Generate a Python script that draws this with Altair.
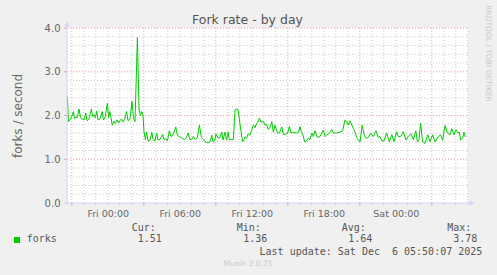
import altair as alt
import pandas as pd

# time offsets in minutes from Fri 00:00, and fork rate values (forks/second)
minutes = [-202, -197, -189, -182, -172, -166, -159, -152, -144, -136, -129, -119, -110, -104, -94,
           -82, -76, -69, -62, -55, -49, -39, -28, -22, -14, -2, 4, 10, 16, 22, 31, 38, 46, 54, 61,
           68, 76, 84, 94, 101, 111, 121, 128, 136, 148, 156, 164, 170, 176, 181, 188,
           194, 201, 211, 220, 226, 236, 244, 251, 261, 274, 281, 291, 298, 308, 316, 326, 340,
           346, 354, 364, 374, 384, 391, 402, 411, 420, 428, 438, 448, 458, 468, 478, 486, 494,
           504, 511, 520, 526, 534, 541, 551, 561, 570, 576, 586, 594, 602, 608, 618, 628, 636,
           646, 652, 661, 674, 681, 686, 694, 702, 711, 718, 728, 736, 744, 751, 758, 766, 778,
           786, 794, 802, 811, 820, 828, 836, 848, 858, 870, 878, 888, 898, 908, 916, 926, 936,
           944, 954, 961, 968, 976, 984, 994, 1004, 1011, 1020, 1028, 1036, 1048, 1061, 1078,
           1086, 1094, 1108, 1120, 1128, 1144, 1161, 1174, 1186, 1194, 1202, 1211, 1228, 1236,
           1244, 1252, 1261, 1272, 1284, 1296, 1302, 1314, 1328, 1341, 1352, 1361, 1370, 1381,
           1394, 1408, 1420, 1431, 1444, 1452, 1464, 1478, 1491, 1502, 1516, 1528, 1540, 1548,
           1556, 1564, 1574, 1586, 1600, 1611, 1624, 1636, 1652, 1664, 1674, 1686, 1698, 1711,
           1720, 1731, 1741, 1750, 1758, 1764, 1774, 1781, 1788]
forks = [2.43, 1.86, 1.90, 1.95, 2.09, 1.93, 1.97, 1.95, 2.15, 1.95, 1.92, 1.90, 2.06, 1.88, 1.92,
         2.15, 1.98, 2.02, 1.95, 2.10, 1.90, 1.92, 2.09, 1.90, 1.95, 2.28, 1.95, 2.09, 1.95, 1.78,
         1.87, 1.82, 1.90, 1.83, 1.88, 1.92, 1.85, 1.90, 2.09, 1.88, 1.92, 2.32, 1.95, 1.86, 3.78,
         2.13, 2.00, 2.09, 2.00, 1.63, 1.45,
         1.62, 1.42, 1.43, 1.62, 1.45, 1.42, 1.60, 1.44, 1.45, 1.57, 1.45, 1.47, 1.42, 1.65, 1.52,
         1.55, 1.74, 1.58, 1.52, 1.50, 1.47, 1.45, 1.48, 1.60, 1.45, 1.46, 1.52, 1.45, 1.50, 1.78,
         1.50, 1.45, 1.40, 1.38, 1.38, 1.40, 1.55, 1.40, 1.42, 1.58, 1.48, 1.50, 1.62, 1.44, 1.62,
         1.44, 1.62, 1.45, 1.45, 1.45, 2.13, 2.15, 2.13, 1.80, 1.40, 1.45, 1.51, 1.48, 1.58, 1.55,
         1.65, 1.78, 1.72, 1.82, 1.85, 1.94, 1.85, 1.86, 1.78, 1.80, 1.68, 1.72, 1.86, 1.62, 1.78,
         1.60, 1.60, 1.74, 1.56, 1.58, 1.58, 1.75, 1.60, 1.62, 1.60, 1.60, 1.62, 1.75, 1.62, 1.55,
         1.40, 1.42, 1.48, 1.45, 1.60, 1.52, 1.65, 1.50, 1.52, 1.67, 1.52, 1.55, 1.60, 1.68, 1.60,
         1.60, 1.62, 1.65, 1.90, 1.86, 1.78, 1.88, 1.70, 1.62, 1.50, 1.45, 1.40, 1.78, 1.52, 1.48,
         1.50, 1.60, 1.52, 1.65, 1.50, 1.52, 1.42, 1.42, 1.60, 1.40, 1.56, 1.40, 1.63, 1.52, 1.52,
         1.63, 1.44, 1.52, 1.58, 1.44, 1.65, 1.40, 1.45, 1.82, 1.40, 1.36, 1.56, 1.40, 1.56, 1.40,
         1.51, 1.56, 1.44, 1.77, 1.60, 1.56, 1.70, 1.56, 1.68, 1.60, 1.62, 1.44, 1.48, 1.62, 1.51]

x_tick_values = [0, 360, 720, 1080, 1440]
x_tick_labels = ["Fri 00:00", "Fri 06:00", "Fri 12:00", "Fri 18:00", "Sat 00:00"]
y_tick_values = [0, 1, 2, 3, 4]

title_text = "Fork rate - by day"
y_title = "forks / second"
series_name = "forks"
stat_labels = ["Cur:", "Min:", "Avg:", "Max:"]
stat_values = ["1.51", "1.36", "1.64", "3.78"]
last_update = "Last update: Sat Dec \u00a06 05:50:07 2025"
munin_version = "Munin 2.0.75"
side_text = "RRDTOOL / TOBI OETIKER"

W, H = 401, 175
X_DOMAIN = [-204, 1801]
GREEN = "#00CC00"
AXIS_C = "#CFD6F8"
FONT_C = "#666666"
SANS = "DejaVu Sans"
MONO = "DejaVu Sans Mono"

df = pd.DataFrame({"t": minutes, "v": forks})
xs = alt.Scale(domain=X_DOMAIN, nice=False, zero=False)
ys = alt.Scale(domain=[0, 4], nice=False)

minor_v = pd.DataFrame({"t": [m for m in range(-180, 1801, 60) if (m + 180) % 360 != 0]})
major_v = pd.DataFrame({"t": [m for m in range(-180, 1801, 360)]})
minor_h = pd.DataFrame({"v": [i / 5 for i in range(1, 20) if i % 5 != 0]})
major_h = pd.DataFrame({"v": [1, 2, 3, 4]})

label_expr = "[" + ",".join("'%s'" % s for s in x_tick_labels) + "][round(datum.value/360)]"

base_line = alt.Chart(df).mark_line(color=GREEN, strokeWidth=1, interpolate="linear").encode(
    x=alt.X("t:Q", scale=xs, axis=alt.Axis(values=x_tick_values, labelExpr=label_expr, grid=False,
                                           ticks=False, domain=False, title=None, labelFont=SANS,
                                           labelFontSize=9.5, labelColor=FONT_C, labelPadding=5,
                                           labelFlush=False)),
    y=alt.Y("v:Q", scale=ys, axis=alt.Axis(values=y_tick_values, format=".1f", grid=False,
                                           ticks=False, domain=False, title=None, labelFont=SANS,
                                           labelFontSize=10, labelColor=FONT_C, labelPadding=7)),
)

g_minor_v = alt.Chart(minor_v).mark_rule(color="#C8C8C8", strokeWidth=1, strokeDash=[1, 2]).encode(
    x=alt.X("t:Q", scale=xs), y=alt.value(0), y2=alt.value(H))
g_major_v = alt.Chart(major_v).mark_rule(color="#E8A0A4", strokeWidth=1, strokeDash=[1, 2]).encode(
    x=alt.X("t:Q", scale=xs), y=alt.value(0), y2=alt.value(H))
g_minor_h = alt.Chart(minor_h).mark_rule(color="#C8C8C8", strokeWidth=1, strokeDash=[1, 2]).encode(
    y=alt.Y("v:Q", scale=ys), x=alt.value(0), x2=alt.value(W))
g_major_h = alt.Chart(major_h).mark_rule(color="#E8A0A4", strokeWidth=1, strokeDash=[1, 2]).encode(
    y=alt.Y("v:Q", scale=ys), x=alt.value(0), x2=alt.value(W))

t_major_v = alt.Chart(major_v).mark_rule(color="#E8A0A4", strokeWidth=1).encode(
    x=alt.X("t:Q", scale=xs), y=alt.value(H), y2=alt.value(H + 3))
t_minor_v = alt.Chart(minor_v).mark_rule(color="#C8C8C8", strokeWidth=1).encode(
    x=alt.X("t:Q", scale=xs), y=alt.value(H), y2=alt.value(H + 2))
t_major_h = alt.Chart(major_h).mark_rule(color="#E8A0A4", strokeWidth=1).encode(
    y=alt.Y("v:Q", scale=ys), x=alt.value(-3), x2=alt.value(0))

dummy = pd.DataFrame({"a": [0]})

axis_left = alt.Chart(dummy).mark_rule(color=AXIS_C, strokeWidth=1).encode(
    x=alt.value(0), y=alt.value(H + 2), y2=alt.value(-4))
axis_bottom = alt.Chart(dummy).mark_rule(color=AXIS_C, strokeWidth=1).encode(
    y=alt.value(H), x=alt.value(-3), x2=alt.value(W + 3))
arrow_up = alt.Chart(dummy).mark_point(shape="triangle-up", filled=True, color=AXIS_C, size=28,
                                       opacity=1).encode(x=alt.value(0), y=alt.value(-4))
arrow_right = alt.Chart(dummy).mark_point(shape="triangle-right", filled=True, color=AXIS_C, size=28,
                                          opacity=1).encode(x=alt.value(W + 4), y=alt.value(H))


def txt(s, x, y, font=SANS, size=10, color=FONT_C, align="left", baseline="middle", angle=0):
    return alt.Chart(dummy).mark_text(text=s, font=font, fontSize=size, color=color, align=align,
                                      baseline=baseline, angle=angle).encode(
        x=alt.value(x), y=alt.value(y))


texts = [
    txt(title_text, 180.5, -4.5, size=12.5, color="#555555", align="center", baseline="alphabetic"),
    txt(y_title, -49, 88, size=12, align="center", angle=270),
    txt(side_text, 420.7, 25.5, size=7.5, color="#C8C8C8", align="center", angle=90),
    txt(series_name, -40.3, 211.3, font=MONO, size=10, color="#555555"),
    txt(last_update, 415.3, 223.7, font=MONO, size=10, color="#555555", align="right"),
    txt(munin_version, 181, 236, size=7.5, color="#C8C8C8", align="center"),
]
lab_x = [64.7, 169.7, 274.7, 380.3]
val_x = [70.7, 176.3, 281.3, 386.3]
for lab, val, lx, vx in zip(stat_labels, stat_values, lab_x, val_x):
    texts.append(txt(lab, lx, 200.3, font=MONO, size=10, color="#555555"))
    texts.append(txt(val, vx, 211.3, font=MONO, size=10, color="#555555"))

legend_box = alt.Chart(dummy).mark_square(filled=True, color=GREEN, size=36, opacity=1).encode(
    x=alt.value(-50), y=alt.value(212))

chart = alt.layer(
    g_minor_h, g_minor_v, g_major_h, g_major_v, t_minor_v, t_major_v, t_major_h,
    base_line, axis_left, axis_bottom, arrow_up, arrow_right, legend_box, *texts
).properties(
    width=W, height=H,
    autosize=alt.AutoSizeParams(type="none"),
    padding={"left": 67, "top": 28, "right": 29, "bottom": 72},
).configure(background="#F0F0F0").configure_view(fill="white", strokeWidth=0)

chart.save("out.html", embed_options={"renderer": "svg", "actions": False})
